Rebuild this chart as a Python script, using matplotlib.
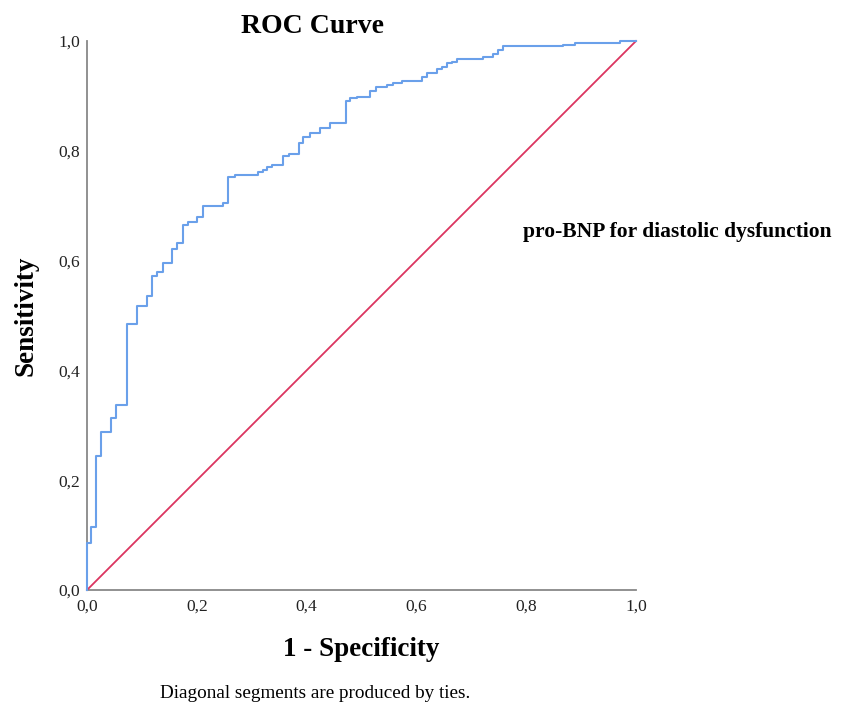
import matplotlib
matplotlib.use("Agg")
import matplotlib.pyplot as plt

# ROC 곡선의 꺾이는 지점 (1 - 특이도, 민감도)
fpr = [0.000, 0.000, 0.007, 0.016, 0.026, 0.044, 0.053, 0.073, 0.091, 0.109,
       0.118, 0.128, 0.138, 0.155, 0.164, 0.175, 0.184, 0.200, 0.211, 0.248,
       0.257, 0.270, 0.311, 0.320, 0.328, 0.337, 0.357, 0.368, 0.386, 0.393,
       0.406, 0.424, 0.443, 0.472, 0.479, 0.492, 0.515, 0.526, 0.546, 0.557,
       0.574, 0.610, 0.619, 0.637, 0.647, 0.656, 0.665, 0.674, 0.721, 0.740,
       0.749, 0.758, 0.867, 0.889, 0.971, 1.000]
tpr = [0.000, 0.086, 0.115, 0.244, 0.288, 0.313, 0.337, 0.485, 0.517, 0.536,
       0.572, 0.579, 0.596, 0.621, 0.632, 0.665, 0.670, 0.679, 0.699, 0.705,
       0.752, 0.756, 0.761, 0.765, 0.770, 0.774, 0.790, 0.794, 0.814, 0.825,
       0.832, 0.842, 0.851, 0.891, 0.896, 0.898, 0.909, 0.916, 0.920, 0.923,
       0.927, 0.934, 0.942, 0.949, 0.953, 0.960, 0.962, 0.967, 0.971, 0.976,
       0.984, 0.991, 0.993, 0.996, 1.000, 1.000]

ref_line = [0.0, 1.0]
tick_values = [0.0, 0.2, 0.4, 0.6, 0.8, 1.0]
tick_labels = ["0,0", "0,2", "0,4", "0,6", "0,8", "1,0"]

plt.rcParams["font.family"] = ["Liberation Serif", "DejaVu Serif"]

fig = plt.figure(figsize=(8.41, 7.08), dpi=100)
ax = fig.add_axes([87 / 841, 118 / 708, 549 / 841, 549 / 708])

# 기준선(대각선)과 ROC 계단 곡선
ax.plot(ref_line, ref_line, color="#dc3560", linewidth=1.3, zorder=4, clip_on=False)
ax.plot(fpr, tpr, drawstyle="steps-post", color="#6aa0ea", linewidth=1.5,
        zorder=5, clip_on=False)

ax.set_xlim(0, 1)
ax.set_ylim(0, 1)
ax.set_xticks(tick_values)
ax.set_xticklabels(tick_labels)
ax.set_yticks(tick_values)
ax.set_yticklabels(tick_labels)
ax.tick_params(length=0, labelsize=12.5, colors="#222222")
ax.tick_params(axis="x", pad=6)
ax.tick_params(axis="y", pad=5)

for side in ["top", "right"]:
    ax.spines[side].set_visible(False)
for side in ["left", "bottom"]:
    ax.spines[side].set_color("#888888")
    ax.spines[side].set_linewidth(1.3)
    ax.spines[side].set_zorder(1)

ax.set_title("ROC Curve", fontsize=20, fontweight="bold", pad=6, x=0.41)
ax.set_xlabel("1 - Specificity", fontsize=19.5, fontweight="bold", labelpad=16)
ax.set_ylabel("Sensitivity", fontsize=19.5, fontweight="bold", labelpad=14)

fig.text(523 / 841, 1 - 232 / 708, "pro-BNP for diastolic dysfunction",
         fontsize=15.5, fontweight="bold", ha="left", va="center")
fig.text(315 / 841, 1 - 693 / 708, "Diagonal segments are produced by ties.",
         fontsize=13.8, ha="center", va="center")

fig.savefig("out.png", dpi=100)
